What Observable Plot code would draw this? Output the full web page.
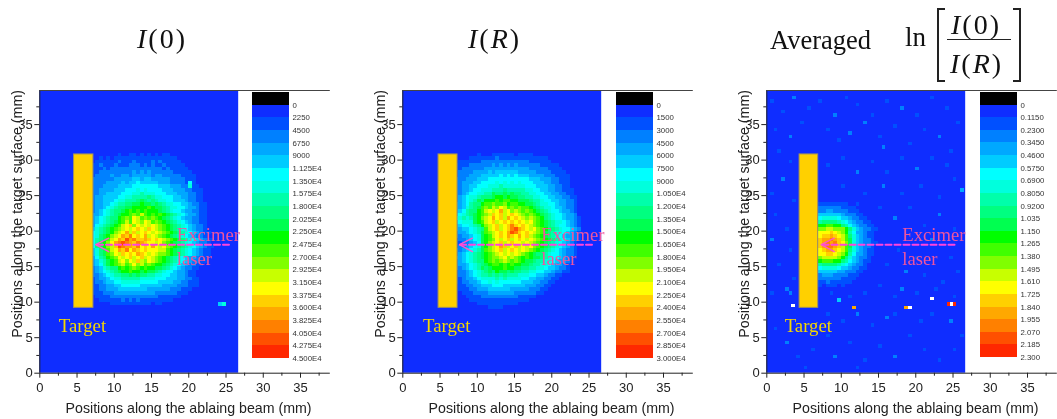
<!DOCTYPE html>
<html><head><meta charset="utf-8">
<script src="https://cdn.jsdelivr.net/npm/d3@7"></script>
<script src="https://cdn.jsdelivr.net/npm/@observablehq/plot@0.6"></script>
<style>
html,body{margin:0;padding:0;background:#fff}
#wrap{position:relative;width:1057px;height:419px;overflow:hidden;background:#fff;filter:blur(0.35px)}
#wrap svg{position:absolute;top:80px;overflow:visible}
.t{position:absolute;font-family:"Liberation Serif",serif;color:#111;white-space:nowrap;line-height:1}
.t i{font-style:italic}
.b{position:absolute;border:2px solid #222;box-sizing:border-box}
</style></head><body><div id="wrap"></div>
<script>
// Colour bands (black, then 20 steps, white = saturated pixels)
const palette = ["#000000","#0f2dff","#0050ff","#0080ff","#00a8ff","#00ccff","#00ffff","#00ffdd","#00ffaa","#00ff80","#00ff50","#00ff00","#40ff00","#80ff00","#c8ff00","#ffff00","#ffd000","#ffa800","#ff8000","#ff5000","#ff2800","#ffffff"];
const bandLevels = d3.range(0, 21);
const labelsA = ["0","2250","4500","6750","9000","1.125E4","1.350E4","1.575E4","1.800E4","2.025E4","2.250E4","2.475E4","2.700E4","2.925E4","3.150E4","3.375E4","3.600E4","3.825E4","4.050E4","4.275E4","4.500E4"];
const labelsB = ["0","1500","3000","4500","6000","7500","9000","1.050E4","1.200E4","1.350E4","1.500E4","1.650E4","1.800E4","1.950E4","2.100E4","2.250E4","2.400E4","2.550E4","2.700E4","2.850E4","3.000E4"];
const labelsC = ["0","0.1150","0.2300","0.3450","0.4600","0.5750","0.6900","0.8050","0.9200","1.035","1.150","1.265","1.380","1.495","1.610","1.725","1.840","1.955","2.070","2.185","2.300"];
const xAxisLabel = "Positions along the ablaing beam (mm)", yAxisLabel = "Positions along the target surface (mm)";

// Heat levels (1-9, a=10 ... k=20) read by eye, 0.5 mm cells, rows from y=31 downward, columns from x=7
const rowsA = [
"1111111211221212121221111111111111",
"1121212222222222222222211111111111",
"1222222322232222323222221111111111",
"2232223222333232322322222111111111",
"2223233333333333333232222211111111",
"2233333333343434333333222221111111",
"2333343344344444344333332222111111",
"3333334444455455444443333222111111",
"3333444454556555554443333262111111",
"3334444555566666665554443372211111",
"3344445556667676666555444332221111",
"3344555566677877766655544433221111",
"3445555667788889877666554433221111",
"3445556778889a98987766555433221111",
"34455678899aabaa9a9877665543322111",
"344567899aabbbbcbaa987766544322111",
"34567899abcbcbcbbba987665443322111",
"4456789abbcdcecbcbcba9876544322111",
"4567899bcdcfecdcdcba98765443322111",
"456789abcecfedfecdcba9876543322111",
"46789abcefgdfefefedcba987654332111",
"5789abcdefefgfegfedcba987654332111",
"6789abdefhegefgfefedcba98765432211",
"679abdefhgifgfhefedcba987654332111",
"689acefhgjhigghgfgfedcba9876543221",
"68abdfhijihgihgffefdcba98765433211",
"69abdegjihhgifgfhfefdcba9876543221",
"579acefhgifhgfgfffeecba98765432211",
"579acdfegfgfhgfefeddcba98765432211",
"4689bcdfefgefgefedcba9876544322111",
"4578abcefdfegedfedcba9876543322111",
"4568abcdecdfdecdcbba98765433221111",
"3457899bcbcdcbcbbaa987654332211111",
"3456789abbcbbabaa98766544322111111",
"3345678899a9a998877665544322111111",
"2344567788888777766655544332211111",
"2334556677777666665555443322211111",
"2233445566666555555444433322211111",
"2233444555555554444443332221111111",
"2223334444444444433333322211111111",
"1222233333333333332222221111111111",
"1122222232323222222222111111111111",
"1111122222222222122111111111111111"
];
const rowsB = [
"1111112111222222122221111111111111",
"1111222222232222222222222111111111",
"1222222333333333333322222211111111",
"2222333333434343433333322222111111",
"2233333344444444444433333222211111",
"2333344445455555544444333322221111",
"2333444555556565655544443332222111",
"3334445556666666666655544433222111",
"3344455666676767676665554433222111",
"3344556667778777777666555443322111",
"3344566777888988888776655443322211",
"3345667788a99a9a998877665544332211",
"3456778999abbabaa99887766554433221",
"345678a9bbbcbccbbaaa98876655443321",
"4456899bccdccdbccbbaa9877665443321",
"445789acdcedfecdcdccba987765543321",
"456899bcefefhefdedcdcba98766544321",
"56789abcdegfgefgfedcdcba9876654431",
"67878abdefhfgehfgfededcb9876654432",
"56777abcefgefgfgfgfefdcba987765432",
"4566789bdefgefgigfgfedcba987665432",
"44556789cefgefgijhgfefdcb998766543",
"3445678acdefgfhjigfgfedca987765432",
"3344567abcefgfhgfhfgedcba987654432",
"2334567abcdfefgefgfefedcba98765432",
"2233456abdefgefgffefedcba987654321",
"2334567abdefhgefgefefdcba987654321",
"3345678acdefgefgfefedcba9876543321",
"3456789abcdefefefedcba998766543321",
"4456789abcddefdedcbcbaa98766543211",
"34567899bcdcdedcdcbaa9887765443211",
"34456789abccbcbcbbaa98877654432111",
"3345678a9abbbcbbaa9988776554332111",
"233456789a9baa9a998877665543322111",
"2334567889898988877766554332211111",
"2234456777787877776655443322111111",
"2233445667676666665554433221111111",
"1223344555666555555444332211111111",
"1222334445555554444433322111111111",
"1122233334444444333333221111111111",
"1112222333333333322222111111111111",
"1111222222222222222211111111111111",
"1111112222222222211111111111111111",
"1111111112222111111111111111111111"
];
// Panel C: rows from y=24 downward, columns from x=7
const rowsC = [
"2222222211211111",
"3333332222111111",
"3344333322211111",
"5555554333221111",
"6777765543322111",
"8999987654332211",
"bbccbb9865433221",
"ddeedddb97543322",
"fffgfedb86443221",
"fgghgfec97543221",
"ghhihgeca7543321",
"ghihigfda7543322",
"ghiihgeca7543321",
"fghhgfec97543221",
"ffggfedb86443221",
"deeeedb975433211",
"bcccbb9865432211",
"8999987654332111",
"6777765543322111",
"5555544333221111",
"3444333322211111",
"3333332222111111",
"2232222221111111",
"2122212111111111"
];
// Isolated pixels [x, y, level]
const spotsA = [[24,9.4,5],[24.5,9.4,7]];
const spotsB = [];
const spotsC = [
[0.5,38,2],[2,36.5,2],[3.5,38.5,3],[5.5,37,2],[7,38,2],[9,36,3],[10.5,38.5,2],[12,37.5,2],[14,36,2],[16,38,2],[18,37,3],[20,36,2],[22,38.5,2],[24,37,2],[25.5,35,2],
[1,34,2],[3,33,3],[4.5,35,2],[8,34,2],[9.5,32.5,2],[11,33.5,3],[13,35,3],[15,33,2],[15.5,31.5,3],[17,34.5,2],[19,32,2],[21,34,2],[23,33,3],[24.5,31,2],
[1.5,31,2],[3,29.5,2],[2,27,3],[0.5,25,2],[3.5,24,2],[1,22,2],[2.5,20,2],[0.5,18.5,3],[3,17,2],[1.5,15,2],[3.5,13,2],[2.5,11.5,3],[3,11,3],[0.5,11,2],
[8,29,2],[10,30,2],[12,28,3],[14,29.5,2],[16,28,2],[18,30,2],[20,28.5,3],[22,30,2],[24,29,2],[26,25.5,4],[10,26,2],[13,25,2],[15.5,26,3],[18,25,2],[20.5,26,2],[23,24.5,2],[25,27,2],
[15,23,2],[17,21.5,3],[19,23,2],[21,20.5,2],[23,22,3],[25,20,2],[17.5,17,2],[20,16,2],[22,18.5,3],[24.5,16,2],[16,15,2],[18.5,14,3],[21,13.5,2],[23.5,12.5,2],[25.5,14,2],
[8.5,11,2],[9.5,10,5],[11,10.5,2],[13,11,2],[15,12,2],[17,10.5,2],[18,11.5,3],[20,11,2],[22.5,11.5,2],[25,10.5,2],
[8,8,2],[10,7,2],[12,8,3],[14,6.5,2],[16,7.5,3],[17,8,2],[20.5,7,2],[22,8,2],[24.5,7,3],[26,5,2],
[1,6,2],[2.5,4,3],[4,2,2],[6,3,2],[8,5,2],[9,2,3],[11,4,2],[13,1.5,2],[15,3.5,2],[17,2,3],[19,5,2],[21,3,2],[23,1.5,2],[25,3,2],[12,0.5,2],[5,0.5,2],
[11.5,8.9,17],[18.5,8.9,17],[19,8.9,21],[22,10.2,21],[24.2,9.4,20],[24.7,9.4,21],[25,9.4,20],[3.3,9.2,21]
];
// Annotation geometry read in mm
const panels = [
  {left:0, rows:rowsA, yTop:31, spots:spotsA, labels:labelsA, step:2250, barLeft:252, barBottom:278, target:[4.6,7.2], arrow:[25.4,7.5], targetX:2.55, laserX:18.4},
  {left:363.4, rows:rowsB, yTop:31, spots:spotsB, labels:labelsB, step:1500, barLeft:616, barBottom:278, target:[4.8,7.35], arrow:[25.4,7.6], targetX:2.72, laserX:18.6},
  {left:727, rows:rowsC, yTop:24, spots:spotsC, labels:labelsC, step:0.115, barLeft:980, barBottom:277, target:[4.4,6.9], arrow:[25.2,7.3], targetX:2.4, laserX:18.2}
];
const targetY = [9.2, 30.8], arrowY = 18.1, arrowHead = [19.0, 17.1], headLength = 1.75;
const majorTicks = [0,5,10,15,20,25,30,35], minorTicks = [2.5,7.5,12.5,17.5,22.5,27.5,32.5,37.5];
const xEnd = 39, yEnd = 39.8, mapEnd = 26.7, cell = 0.5;
const sans = '"Liberation Sans",Arial,sans-serif', serif = '"Liberation Serif",serif';
const wrap = document.getElementById("wrap");

for (const p of panels) {
  const s = p.step;
  const colorScale = {type:"threshold", domain:[...bandLevels].map(i=>i*s), range:palette};
  const toValue = l => (l-0.5)*s;
  const cells = [];
  p.rows.forEach((row,r)=>{
    [...row].forEach((ch,c)=>{
      cells.push({x1:7+c*cell, x2:7+(c+1)*cell, y2:p.yTop-r*cell, y1:p.yTop-(r+1)*cell, v:toValue(parseInt(ch,36))});
    });
  });
  p.spots.forEach(([x,y,l])=>cells.push({x1:x,x2:x+cell,y1:y,y2:y+cell,v:toValue(l)}));
  const [tipFrom,tipTo] = p.arrow;
  const svg = Plot.plot({
    width:330, height:339, marginLeft:39.3, marginRight:0.2, marginTop:10, marginBottom:46.3,
    style:{fontFamily:sans, fontSize:"14px", background:"transparent", color:"#222"},
    x:{domain:[0,xEnd], label:null},
    y:{domain:[0,yEnd], label:null},
    color:colorScale,
    marks:[
      Plot.rect([{x1:0,x2:mapEnd,y1:0,y2:yEnd,v:toValue(1)}],{x1:"x1",x2:"x2",y1:"y1",y2:"y2",fill:"v"}),
      Plot.rect(cells,{x1:"x1",x2:"x2",y1:"y1",y2:"y2",fill:"v",shapeRendering:"crispEdges"}),
      Plot.rect([{x1:p.target[0],x2:p.target[1],y1:targetY[0],y2:targetY[1]}],{x1:"x1",x2:"x2",y1:"y1",y2:"y2",fill:"#ffd000",stroke:"#a09060",strokeWidth:1}),
      Plot.line([[tipFrom,arrowY],[tipTo,arrowY]],{x:"0",y:"1",stroke:"#ff44dd",strokeWidth:2,strokeDasharray:"6,3"}),
      Plot.line([[tipTo+headLength,arrowHead[0]],[tipTo,arrowY],[tipTo+headLength,arrowHead[1]]],{x:"0",y:"1",stroke:"#ff55cc",strokeWidth:1.4}),
      Plot.text(["Excimer"],{x:p.laserX,y:19.4,text:d=>d,textAnchor:"start",fill:"#ee55a0",fontFamily:serif,fontSize:18.6}),
      Plot.text(["laser"],{x:p.laserX,y:16.1,text:d=>d,textAnchor:"start",fill:"#ee55a0",fontFamily:serif,fontSize:18.6}),
      Plot.text(["Target"],{x:p.targetX,y:6.7,text:d=>d,textAnchor:"start",fill:"#f5d800",fontFamily:serif,fontSize:18.8}),
      Plot.axisX(majorTicks,{tickSize:5,tickPadding:5,fontSize:13,label:null}),
      Plot.axisX(minorTicks,{tickSize:3,tickFormat:()=>"",label:null}),
      Plot.axisY(majorTicks,{tickSize:5,tickPadding:2,fontSize:13,label:null}),
      Plot.axisY(minorTicks,{tickSize:3,tickFormat:()=>"",label:null}),
      Plot.text([xAxisLabel],{frameAnchor:"bottom",text:d=>d,dx:3.5,dy:40,fontSize:14.2,fill:"#222",fontFamily:sans}),
      Plot.text([yAxisLabel],{frameAnchor:"left",text:d=>d,rotate:-90,textAnchor:"middle",lineAnchor:"middle",dx:-22,dy:-18,fontSize:14.2,fill:"#222",fontFamily:sans}),
      Plot.ruleX([0],{stroke:"#222"}),
      Plot.ruleY([0],{stroke:"#222"}),
      Plot.ruleY([yEnd],{stroke:"#444"})
    ]
  });
  svg.style.left = p.left+"px";
  wrap.appendChild(svg);

  const bands = bandLevels.map(i=>({y1:(i-1)*s,y2:i*s,v:(i-0.5)*s}));
  const bar = Plot.plot({
    width:77, height:339, marginLeft:0, marginRight:40, marginTop:12, marginBottom:339-p.barBottom,
    style:{fontFamily:sans, background:"transparent", color:"#333"},
    x:{domain:[0,1],axis:null},
    y:{domain:[20*s,-s],axis:null,label:null},
    color:colorScale,
    marks:[
      Plot.rect(bands,{x1:0,x2:1,y1:"y1",y2:"y2",fill:"v",shapeRendering:"crispEdges"}),
      Plot.axisY(bandLevels.map(i=>i*s),{anchor:"right",tickSize:0,tickPadding:3,fontSize:7.8,label:null,
        tickFormat:(d)=>p.labels[Math.round(d/s)]})
    ]
  });
  bar.style.left = p.barLeft+"px";
  wrap.appendChild(bar);
}

// Titles
const titles = [
  {html:'<i>I</i>(0)', x:137, y:25, size:28, ls:2},
  {html:'<i>I</i>(<i>R</i>)', x:468, y:25, size:28, ls:2},
  {html:'Averaged', x:770, y:27, size:26.5, ls:0},
  {html:'ln', x:905, y:24, size:27, ls:0},
  {html:'<i>I</i>(0)', x:951, y:11, size:28, ls:2},
  {html:'<i>I</i>(<i>R</i>)', x:950, y:50, size:28, ls:2}
];
for (const t of titles) {
  const d = document.createElement("div");
  d.className = "t"; d.innerHTML = t.html;
  d.style.cssText = `left:${t.x}px;top:${t.y}px;font-size:${t.size}px;letter-spacing:${t.ls}px`;
  wrap.appendChild(d);
}
// Fraction bar and square brackets of the formula
const boxes = [
  "left:947px;top:39px;width:64px;height:0;border-width:1px 0 0 0",
  "left:937px;top:8px;width:8px;height:74px;border-right:0",
  "left:1013px;top:8px;width:8px;height:74px;border-left:0"
];
for (const css of boxes) {
  const d = document.createElement("div");
  d.className = "b"; d.style.cssText = css;
  wrap.appendChild(d);
}
</script></body></html>
